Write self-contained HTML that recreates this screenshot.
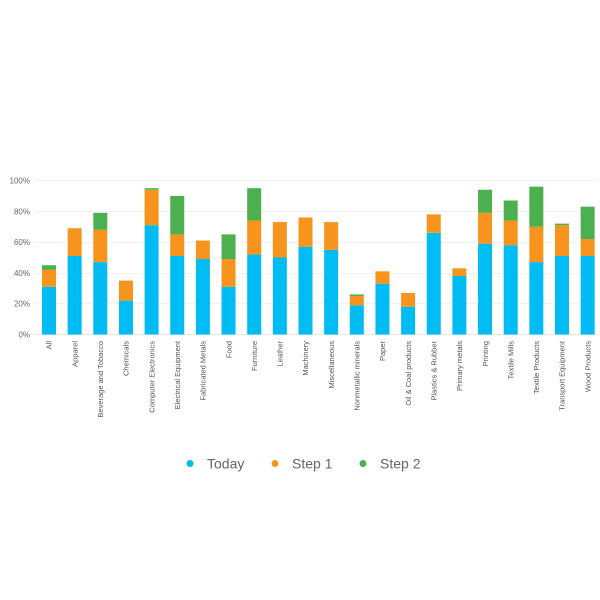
<!DOCTYPE html>
<html><head><meta charset="utf-8"><style>
html,body{margin:0;padding:0;background:#fff;width:600px;height:600px;overflow:hidden}
svg{display:block}
text{font-family:"Liberation Sans",sans-serif}
</style></head><body>
<svg id="s" width="600" height="600" xmlns="http://www.w3.org/2000/svg">
<g stroke="#f0f0f0" stroke-width="1">
<line x1="35" x2="598" y1="180.5" y2="180.5"/>
<line x1="35" x2="598" y1="211.5" y2="211.5"/>
<line x1="35" x2="598" y1="242.5" y2="242.5"/>
<line x1="35" x2="598" y1="273.5" y2="273.5"/>
<line x1="35" x2="598" y1="303.5" y2="303.5"/>
</g>
<line x1="35" x2="598" y1="334.5" y2="334.5" stroke="#e6e6e6"/>
<g font-size="8" fill="#666" text-anchor="end">
<text x="30" y="183.5">100%</text>
<text x="30" y="214.3">80%</text>
<text x="30" y="245.1">60%</text>
<text x="30" y="275.9">40%</text>
<text x="30" y="306.7">20%</text>
<text x="30" y="337.5">0%</text>
</g>
<g id="bars"></g>
<g id="labels" font-size="7.5" fill="#555" text-anchor="end"></g>
<g font-size="14" fill="#666">
<circle cx="190" cy="463.5" r="3.5" fill="#00BCF2"/><text x="207" y="468.5">Today</text>
<circle cx="275" cy="463.5" r="3.5" fill="#F7941D"/><text x="292" y="468.5">Step 1</text>
<circle cx="363" cy="463.5" r="3.5" fill="#4CB04F"/><text x="380" y="468.5">Step 2</text>
</g>
</svg>
<script>
var d=[["All",31,42,45],["Apparel",51,69,69],["Beverage and Tobacco",47,68,79],["Chemicals",22,35,35],["Computer Electronics",71,94,95],["Electrical Equipment",51,65,90],["Fabricated Metals",49,61,61],["Food",31,49,65],["Furniture",52,74,95],["Leather",50,73,73],["Machinery",57,76,76],["Miscellaneous",55,73,73],["Nonmetallic minerals",19,25,26],["Paper",33,41,41],["Oil & Coal products",18,27,27],["Plastics & Rubber",66,78,78],["Primary metals",38,43,43],["Printing",59,79,94],["Textile Mills",58,74,87],["Textile Products",47,70,96],["Transport Equipment",51,71,72],["Wood Products",51,62,83]];
var ns="http://www.w3.org/2000/svg",B=document.getElementById("bars"),L=document.getElementById("labels");
var y0=334.5,k=1.54,cols=["#00BCF2","#F7941D","#4CB04F"];
function r(x,a,b,c){if(b<=a)return;var e=document.createElementNS(ns,"rect");e.setAttribute("x",x-7);e.setAttribute("width",14);e.setAttribute("y",y0-b*k);e.setAttribute("height",(b-a)*k);e.setAttribute("fill",c);B.appendChild(e);}
d.forEach(function(v,i){var x=49+i*25.65;r(x,0,v[1],cols[0]);r(x,v[1],v[2],cols[1]);r(x,v[2],v[3],cols[2]);
var t=document.createElementNS(ns,"text");t.setAttribute("transform","translate("+(x+2.7)+",341) rotate(-90)");t.textContent=v[0];L.appendChild(t);});
</script>
</body></html>
